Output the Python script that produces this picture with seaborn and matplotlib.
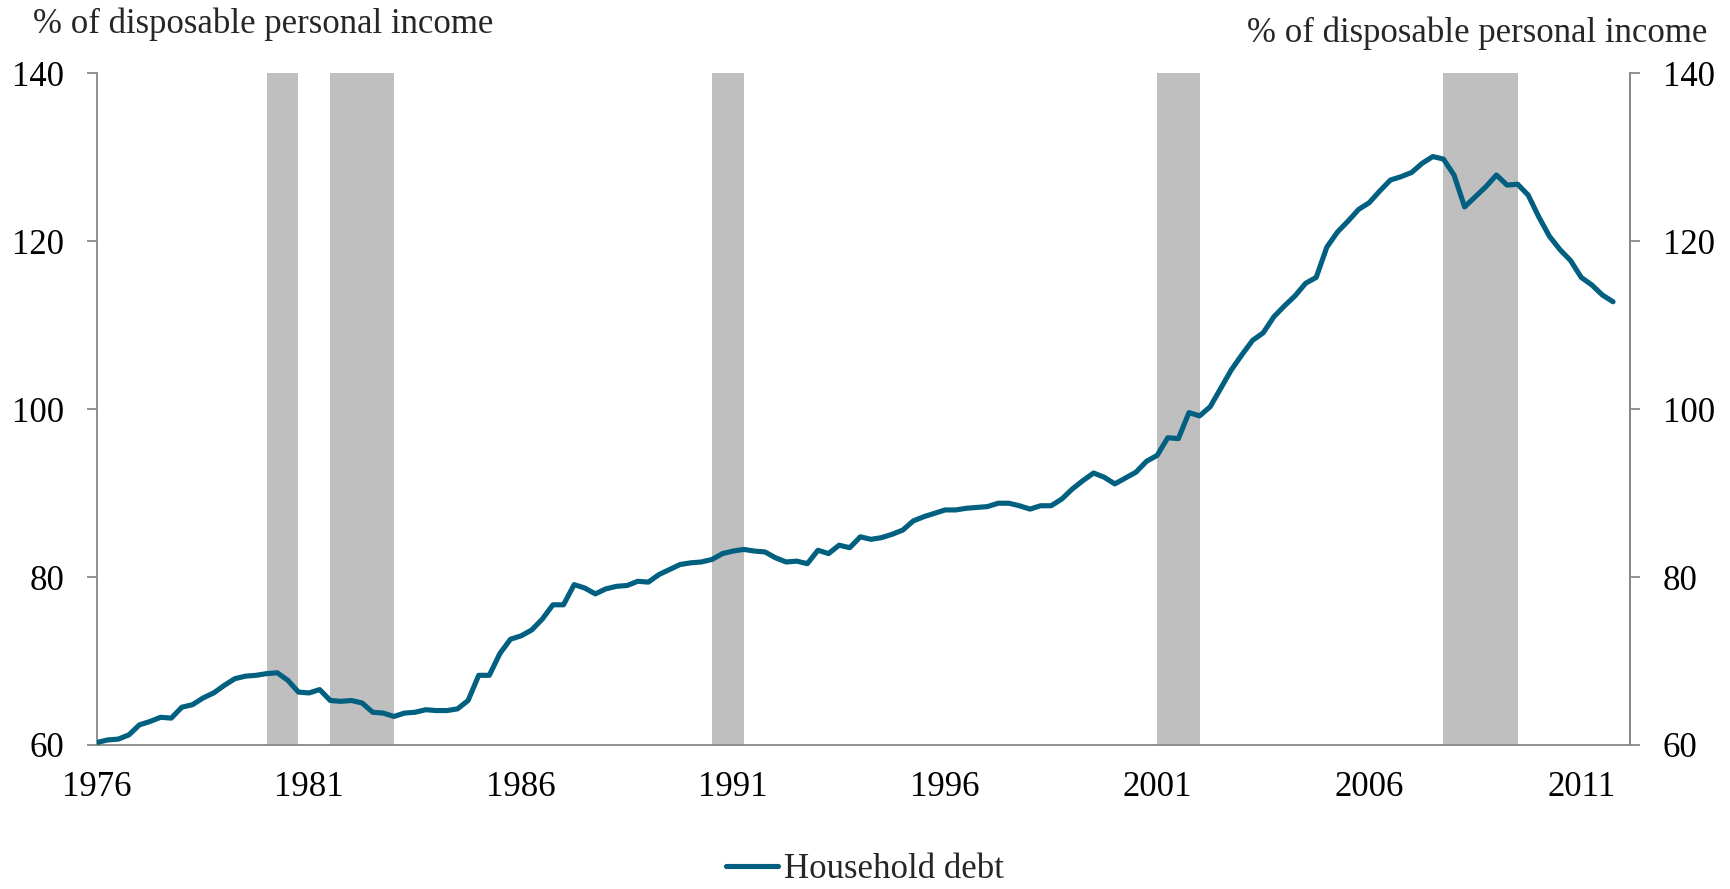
import numpy as np
import pandas as pd
import matplotlib
matplotlib.use("Agg")
import matplotlib.pyplot as plt
import seaborn as sns

# ---- data (quarterly, 1976Q1 .. 2011Q4) ----
start_year = 1976
household_debt = [
    60.3, 60.6, 60.7, 61.2, 62.4, 62.8, 63.3, 63.2,   # 1976-1977
    64.5, 64.8, 65.6, 66.2, 67.1, 67.9, 68.2, 68.3,   # 1978-1979
    68.5, 68.6, 67.7, 66.3, 66.2, 66.6, 65.3, 65.2,   # 1980-1981
    65.3, 65.0, 63.9, 63.8, 63.4, 63.8, 63.9, 64.2,   # 1982-1983
    64.1, 64.1, 64.3, 65.3, 68.3, 68.3, 70.9, 72.6,   # 1984-1985
    73.0, 73.7, 75.0, 76.7, 76.7, 79.1, 78.7, 78.0,   # 1986-1987
    78.6, 78.9, 79.0, 79.5, 79.4, 80.3, 80.9, 81.5,   # 1988-1989
    81.7, 81.8, 82.1, 82.8, 83.1, 83.3, 83.1, 83.0,   # 1990-1991
    82.3, 81.8, 81.9, 81.6, 83.2, 82.8, 83.8, 83.5,   # 1992-1993
    84.8, 84.5, 84.7, 85.1, 85.6, 86.7, 87.2, 87.6,   # 1994-1995
    88.0, 88.0, 88.2, 88.3, 88.4, 88.8, 88.8, 88.5,   # 1996-1997
    88.1, 88.5, 88.5, 89.3, 90.5, 91.5, 92.4, 91.9,   # 1998-1999
    91.1, 91.8, 92.5, 93.8, 94.5, 96.6, 96.5, 99.6,   # 2000-2001
    99.2, 100.3, 102.5, 104.7, 106.5, 108.2, 109.1, 111.0,  # 2002-2003
    112.3, 113.5, 115.0, 115.7, 119.3, 121.1, 122.4, 123.8,  # 2004-2005
    124.6, 126.0, 127.3, 127.7, 128.2, 129.3, 130.1, 129.8,  # 2006-2007
    127.9, 124.1, 125.3, 126.5, 127.9, 126.7, 126.8, 125.5,  # 2008-2009
    122.9, 120.6, 119.0, 117.7, 115.7, 114.8, 113.6, 112.8,  # 2010-2011
]
# recession periods (start, end) in decimal years
recession_start = [1980.0, 1981.5, 1990.5, 2001.0, 2007.75]
recession_end = [1980.75, 1983.0, 1991.25, 2002.0, 2009.5]

x_ticks = [1976, 1981, 1986, 1991, 1996, 2001, 2006, 2011]
y_ticks = [60, 80, 100, 120, 140]
unit_label = "% of disposable personal income"
series_name = "Household debt"

dates = [start_year + i * 0.25 for i in range(len(household_debt))]
df = pd.DataFrame({"date": dates, "value": household_debt, "series": series_name})

# ---- style ----
sns.set_style("white")
plt.rcParams["font.family"] = ["Liberation Serif", "DejaVu Serif"]
FS = 25
line_color = "#015F80"
band_color = "#BFBFBF"
axis_color = "#888888"
LW = 3.7

fig = plt.figure(figsize=(17.30, 8.89), dpi=100)
ax = fig.add_axes([0.0561, 0.1620, 0.9422 - 0.0561, 0.9174 - 0.1620])

for s, e in zip(recession_start, recession_end):
    ax.axvspan(s, e, color=band_color, lw=0, zorder=0)

sns.lineplot(data=df, x="date", y="value", hue="series", palette=[line_color],
             linewidth=LW, ax=ax, zorder=3, legend=True)

ax.set_xlim(1976, 2012.15)
ax.set_ylim(60, 140)
ax.set_xticks(x_ticks)
ax.set_xticklabels([str(t) for t in x_ticks])
ax.set_yticks(y_ticks)
ax.set_xlabel("")
ax.set_ylabel("")

for side in ["left", "bottom", "right"]:
    ax.spines[side].set_visible(True)
    ax.spines[side].set_color(axis_color)
    ax.spines[side].set_linewidth(1.3)
ax.spines["top"].set_visible(False)
ax.tick_params(axis="both", which="major", direction="out", length=7.5, width=1.3,
               color=axis_color, labelsize=FS, labelcolor="black")
ax.tick_params(axis="y", pad=16)
ax.tick_params(axis="x", pad=11)

ax2 = ax.twinx()
ax2.set_ylim(60, 140)
ax2.set_yticks(y_ticks)
for side in ["left", "bottom", "top"]:
    ax2.spines[side].set_visible(False)
ax2.spines["right"].set_color(axis_color)
ax2.spines["right"].set_linewidth(1.3)
ax2.tick_params(axis="y", direction="out", length=7.5, width=1.3, color=axis_color,
                labelsize=FS, labelcolor="black", pad=16)
ax2.grid(False)
ax.grid(False)

fig.text(0.019, 0.973, unit_label, fontsize=FS, ha="left", va="center")
fig.text(0.987, 0.963, unit_label, fontsize=FS, ha="right", va="center")

handles, labels = ax.get_legend_handles_labels()
ax.get_legend().remove()
leg = fig.legend(handles, labels, loc="center", bbox_to_anchor=(0.5, 0.022),
                 frameon=False, fontsize=FS, handlelength=1.5, handletextpad=0.15)
for h in leg.get_lines():
    h.set_linewidth(LW)
    h.set_solid_capstyle("round")

fig.savefig("out.png", dpi=100)
